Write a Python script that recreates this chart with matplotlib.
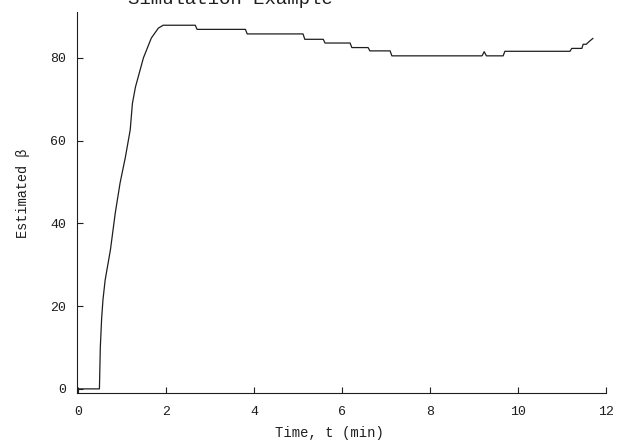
"""Estimated beta vs. time for the simulation example."""
import matplotlib
matplotlib.use("Agg")
import matplotlib.pyplot as plt

# estimated beta trace (time in min)
time_min = [0.00, 0.48, 0.50, 0.53, 0.56, 0.61, 0.73, 0.84, 0.95, 1.07, 1.18,
            1.23, 1.30, 1.48, 1.66, 1.82, 1.93, 2.66, 2.70, 3.80, 3.84, 5.11,
            5.15, 5.57, 5.61, 6.18, 6.22, 6.59, 6.63, 7.09, 7.13, 9.18, 9.23,
            9.28, 9.66, 9.70, 11.18, 11.22, 11.45, 11.48, 11.55, 11.62, 11.70]
beta_est = [0.0, 0.0, 10.0, 17.0, 21.5, 26.3, 33.6, 42.5, 49.8, 56.0, 62.6,
            69.0, 73.0, 80.0, 84.8, 87.2, 87.9, 87.9, 86.9, 86.9, 85.8, 85.8,
            84.5, 84.5, 83.6, 83.6, 82.5, 82.5, 81.7, 81.7, 80.5, 80.5, 81.5,
            80.5, 80.5, 81.6, 81.6, 82.3, 82.3, 83.3, 83.3, 84.0, 84.7]

x_ticks = [0, 2, 4, 6, 8, 10, 12]
y_ticks = [0, 20, 40, 60, 80]

mono = ["Liberation Mono", "DejaVu Sans Mono"]
ink = "#1e1e1e"

fig = plt.figure(figsize=(6.24, 4.41), dpi=100)
ax = fig.add_axes([0.1234, 0.1088, 0.8478, 0.8640])

ax.plot(time_min, beta_est, color=ink, lw=0.9)

ax.set_xlim(-0.03, 12.0)
ax.set_ylim(-1.0, 91.1)
ax.set_xticks(x_ticks)
ax.set_yticks(y_ticks)
for s in ("top", "right"):
    ax.spines[s].set_visible(False)
for s in ("left", "bottom"):
    ax.spines[s].set_linewidth(0.8)
    ax.spines[s].set_color(ink)

ax.tick_params(axis="x", direction="in", length=4, width=0.8, pad=9,
               colors=ink, labelsize=9.5)
ax.tick_params(axis="y", direction="in", length=4, width=0.8, pad=8,
               colors=ink, labelsize=9.5)
for lbl in ax.get_xticklabels() + ax.get_yticklabels():
    lbl.set_family(mono)

ax.set_xlabel("Time, t (min)", family=mono, fontsize=10, color=ink)
ax.xaxis.set_label_coords(0.478, -0.105)
ax.xaxis.label.set_va("center")
ax.set_ylabel("Estimated \u03b2", family=mono, fontsize=9.8, color=ink)
ax.yaxis.set_label_coords(-0.102, 0.525)
ax.yaxis.label.set_va("center")

# title sits partly above the top edge of the page
fig.text(230.5 / 624, 1 - 4 / 441, "Simulation Example", family=mono,
         fontsize=13.7, color=ink, ha="center", va="baseline")

fig.savefig("out.png", dpi=100)
plt.close(fig)
